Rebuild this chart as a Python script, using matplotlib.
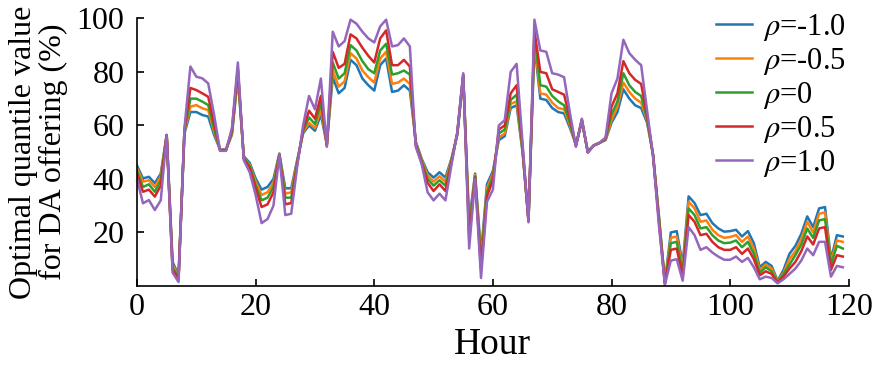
import matplotlib
matplotlib.use("Agg")
import matplotlib.pyplot as plt

hours = list(range(120))
rho_labels = ["-1.0", "-0.5", "0", "0.5", "1.0"]
colors = ["#1f77b4", "#ff7f0e", "#2ca02c", "#d62728", "#9467bd"]

rho_m10 = [45, 40.2, 40.8, 38.4, 42, 56.4, 9, 4, 57, 65,
           65, 63.9, 63.3, 56.4, 51, 51, 56.5, 78, 48.5, 46,
           40.2, 36, 37, 40, 49.5, 36.5, 36.5, 47, 57, 60,
           58, 64, 53, 78, 72, 74, 84.5, 82.5, 77.5, 75,
           73, 82.5, 85, 72.5, 73, 75, 73, 54, 47.5, 42.5,
           40.5, 42.5, 40.5, 47.5, 56.5, 78, 24, 42, 12, 38,
           43, 54.5, 56, 66.5, 67.5, 50, 25, 90, 70, 69.5,
           66.5, 65, 64.5, 59, 52.8, 61.5, 50.3, 52.5, 53.5, 54.5,
           61, 65, 73.5, 70, 67.5, 66.5, 61, 49.3, 26, 1.5,
           20, 20.5, 8, 33.5, 31, 26.5, 27, 23.5, 21.5, 20.3,
           20.5, 21, 18.5, 20.5, 16, 7, 9, 7.5, 2, 6,
           12, 15, 19.5, 26, 22, 29, 29.5, 10, 19, 18.5]
rho_m05 = [44, 39, 39.5, 37, 41, 56.4, 8, 3.5, 57.5, 67,
           67.6, 66.4, 65.7, 57.7, 50.9, 50.9, 57, 79, 48, 45.3,
           39, 34, 35, 38.5, 49.3, 34.5, 35, 46.5, 57.5, 61,
           59, 66, 52.8, 80.5, 74.5, 76.5, 87, 85, 80.5, 78,
           76, 85, 87.5, 75.5, 76, 77.5, 75.5, 53.5, 47, 41.3,
           39, 41, 39, 47, 56.8, 78.5, 22, 41.5, 10, 36.5,
           42, 55.5, 57, 68, 69, 50.5, 24.8, 92, 72, 71.5,
           68.5, 66.5, 66, 60, 52.6, 61.8, 50.1, 52.5, 53.5, 54.8,
           62, 67, 76, 72.5, 70, 68.5, 61.8, 49.1, 25.5, 1.2,
           18, 18.5, 6.5, 31.5, 29, 24, 24.5, 21, 19, 18,
           18.3, 19, 16.5, 18.5, 14, 6, 8, 6.5, 1.8, 5,
           10, 13, 17.5, 24, 20, 27, 27.5, 9, 17, 16.5]
rho_0 = [43, 37, 38, 35.2, 39.5, 56.4, 7, 3, 58, 70,
         70, 68.9, 67.6, 58.9, 50.8, 50.8, 57.5, 80.5, 47.8, 44.8,
         37.7, 32, 33, 37, 49.1, 33, 33, 46, 58, 63,
         60.5, 68.5, 52.6, 83.5, 77.5, 79.5, 90, 88, 84, 81,
         79.5, 88, 90.5, 79, 79.5, 80.5, 79, 53, 46.5, 40,
         37.5, 39.5, 37.5, 46.5, 57, 78.8, 20, 41, 8, 35,
         41, 57, 58.5, 69.5, 71.5, 51, 24.5, 94, 75, 74.5,
         71, 69, 67.5, 61, 52.5, 62, 50, 52.5, 53.5, 55,
         64, 69, 79.5, 75, 72.5, 71, 62.5, 49, 25, 1,
         16, 16.5, 5, 29, 26.5, 21.5, 22, 19, 17, 16,
         16.2, 17, 14.5, 16.5, 12, 5, 7, 5.5, 1.5, 4.5,
         8, 11.5, 15.5, 21.5, 18, 24.5, 25, 8, 15, 14]
rho_p05 = [42, 35.2, 36, 33.4, 37.5, 56.4, 6, 2.5, 58.5, 74,
           73.2, 72, 70.7, 60.8, 50.7, 50.7, 58, 81.5, 47.5, 44,
           36.5, 29.5, 30.5, 35, 48.9, 30.5, 31, 45.5, 58.5, 65.5,
           62.5, 71, 52.3, 87.5, 81.5, 83, 94, 92.5, 89, 86,
           83.5, 92.5, 95.5, 82.5, 82.5, 84.5, 82, 52.5, 46, 38.5,
           35.5, 38, 35.5, 46, 57.2, 79, 18, 40.5, 6, 33.5,
           39.5, 58.5, 60, 72, 75, 52, 24.2, 95.5, 80, 79.5,
           73.5, 72.5, 71.5, 62.5, 52.3, 62.2, 49.9, 52.5, 53.5, 55.2,
           67, 72, 84, 79.5, 77, 75.5, 63.5, 48.9, 24, 0.8,
           13.5, 14, 3.5, 26.5, 24, 19, 19.5, 16.5, 14.5, 13.5,
           13.5, 14.5, 12, 14, 10, 4, 5.5, 4.5, 1.2, 3.5,
           6.5, 9, 13, 18.5, 15.5, 21.5, 22, 6, 11.5, 11]
rho_p10 = [40, 30.9, 32.1, 28.4, 32, 56.4, 5, 1.5, 59, 82,
           78.2, 77.6, 75.7, 63.9, 50.5, 50.5, 59, 83.5, 47, 42.5,
           34, 23.5, 25, 30, 48.8, 26.5, 27, 44.5, 60, 71,
           66, 77.5, 52, 95, 89.5, 91.5, 99.5, 98, 95, 92.5,
           91, 97, 99.5, 89.5, 90, 92.5, 89.5, 52, 45.5, 35,
           32, 34.5, 32, 45, 57.5, 79.5, 14, 40, 3, 31.5,
           36, 60, 62, 80, 83, 53.5, 23.8, 99.5, 88, 87.5,
           79.5, 79, 78, 64.5, 52, 62.5, 49.8, 52.5, 53.5, 55.5,
           72, 77.5, 92, 87, 84.5, 82.5, 65.5, 48.7, 22.5, 0.5,
           9.5, 10, 2, 22, 19, 13.5, 14.5, 12.5, 11, 9.8,
           9.8, 11, 9, 10.5, 7, 2.5, 3.5, 3, 1, 2.5,
           4.5, 6.5, 9.5, 14, 11.5, 16.5, 16.5, 3.5, 7.5, 7]

series = [rho_m10, rho_m05, rho_0, rho_p05, rho_p10]

plt.rcParams['font.family'] = ['Liberation Serif', 'DejaVu Serif']
plt.rcParams['mathtext.fontset'] = 'stix'

fig = plt.figure(figsize=(8.75, 3.67), dpi=100)
ax = fig.add_axes([0.1566, 0.2207, 0.8134, 0.7293])

for vals, lab, c in zip(series, rho_labels, colors):
    ax.plot(hours, vals, color=c, lw=1.8, label=r"$\rho$=" + lab)

ax.set_xlim(0, 120)
ax.set_ylim(0, 100)
ax.set_xticks([0, 20, 40, 60, 80, 100, 120])
ax.set_yticks([20, 40, 60, 80, 100])
ax.tick_params(direction='in', labelsize=23, length=5, width=1.2)
ax.tick_params(axis='y', pad=9)
ax.tick_params(axis='x', pad=5)
for s in ['top', 'right']:
    ax.spines[s].set_visible(False)
for s in ['left', 'bottom']:
    ax.spines[s].set_linewidth(1.2)

ax.set_xlabel("Hour", fontsize=27, labelpad=4)
ax.set_ylabel("Optimal quantile value\nfor DA offering (%)", fontsize=23,
              linespacing=1.05, labelpad=6)

leg = ax.legend(loc='upper right', bbox_to_anchor=(1.013, 1.07), frameon=False,
                fontsize=22, handlelength=1.2, handletextpad=0.35,
                labelspacing=0.1, borderaxespad=0.0)

fig.savefig("out.png", dpi=100)
